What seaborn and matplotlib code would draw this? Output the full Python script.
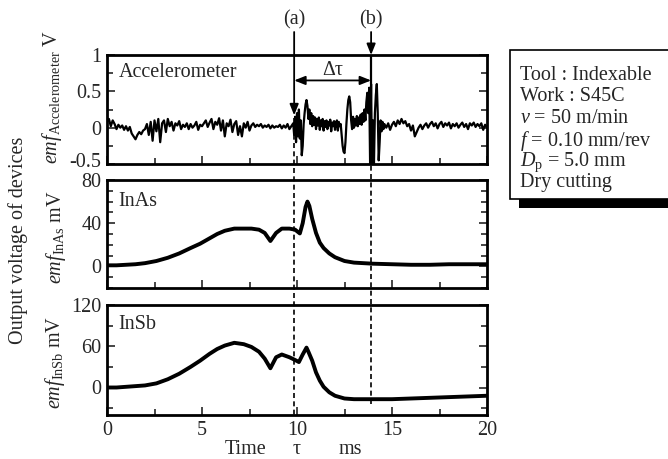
import numpy as np
import pandas as pd
import matplotlib
matplotlib.use("Agg")
import matplotlib.pyplot as plt
import matplotlib.transforms as mtransforms
from matplotlib.lines import Line2D
from matplotlib.patches import Rectangle
from matplotlib.ticker import MultipleLocator
import seaborn as sns

# ---------------- data ----------------
acc_t1 = np.round(np.arange(0.0, 9.8001, 0.1), 2)
acc_v1 = [0.08, 0.12, 0.02, 0.10, 0.05, -0.02, 0.04, 0.00, 0.03, -0.03,
          0.02, -0.04, 0.01, -0.08, -0.12, -0.16, -0.10, -0.06, -0.09, -0.04,
          -0.02, 0.05, -0.10, 0.08, -0.18, 0.10, -0.05, 0.12, -0.20, 0.06,
          0.10, -0.06, 0.12, 0.02, 0.08, -0.04, 0.06, 0.03, 0.09, -0.02,
          0.04, 0.01, 0.06, -0.02, 0.05, 0.00, 0.03, 0.08, -0.03, 0.04,
          0.02, 0.06, 0.10, 0.01, 0.07, 0.12, -0.02, 0.08, 0.04, 0.13,
          -0.04, 0.10, -0.12, 0.06, 0.02, 0.11, -0.06, 0.05, 0.09, -0.10,
          0.02, -0.12, 0.06, 0.00, 0.08, -0.04, 0.03, 0.06, 0.01, 0.04,
          0.02, 0.05, 0.00, 0.03, 0.01, 0.04, -0.01, 0.03, 0.00, 0.02,
          0.01, 0.04, -0.01, 0.03, 0.00, 0.05, -0.02, 0.02, 0.06]
acc_t2 = np.round(np.arange(9.85, 14.6001, 0.05), 2)
acc_v2 = [-0.10, 0.15, -0.20, 0.20, -0.12, 0.25, -0.15, 0.10, -0.38, -0.25,
          0.05, 0.20, 0.32, 0.38, 0.30, 0.12, 0.25, 0.05, 0.20, 0.02,
          0.16, 0.04, 0.14, -0.02, 0.12, 0.03, 0.14, -0.03, 0.10, 0.02,
          0.12, -0.04, 0.09, 0.01, 0.10, -0.02, 0.08, 0.03, 0.11, -0.05,
          0.07, 0.02, 0.09, -0.03, 0.06, 0.10, -0.04, 0.08, 0.02, 0.05,
          -0.10, -0.25, -0.33, -0.35, -0.20, 0.05, 0.25, 0.38, 0.43, 0.35,
          0.10, -0.02, 0.15, 0.00, 0.12, 0.03, 0.16, 0.02, 0.14, 0.05,
          0.18, 0.04, 0.20, 0.08, 0.25, 0.10, 0.35, 0.48, 0.20, 0.55,
          -0.55, 0.60, -0.55, 0.10, -0.50, 0.20, 0.45, 0.60, 0.20, -0.45,
          -0.20, 0.10, -0.05, 0.08, -0.02, 0.05]
acc_t3 = np.round(np.arange(14.7, 20.0001, 0.1), 2)
acc_v3 = [0.00, 0.06, -0.03, 0.04, 0.08, 0.02, 0.10, 0.05,
          0.12, 0.06, 0.09, 0.02, 0.05, -0.04, 0.03, -0.12, -0.06, 0.00,
          0.04, -0.02, 0.03, 0.06, 0.00, 0.05, 0.08, 0.02, 0.06, -0.01,
          0.05, 0.08, 0.01, 0.06, 0.03, 0.07, -0.01, 0.05, 0.02, 0.06,
          0.00, 0.04, 0.07, 0.01, 0.05, -0.02, 0.06, 0.03, 0.07, 0.01,
          0.05, 0.02, 0.06, -0.03, 0.04, 0.00]
acc_time = np.concatenate([acc_t1, acc_t2, acc_t3])
acc_emf = np.array(acc_v1 + acc_v2 + acc_v3)

inas_time = [0, 0.5, 1.0, 1.5, 2.0, 2.6, 3.2, 3.8, 4.4, 4.9, 5.4, 5.8, 6.2, 6.7,
             7.2, 7.6, 8.0, 8.3, 8.6, 8.9, 9.2, 9.6, 9.9, 10.15, 10.3, 10.45,
             10.55, 10.65, 10.8, 11.0, 11.2, 11.4, 11.7, 12.0, 12.5, 13.0,
             14.0, 15.0, 16.0, 17.0, 18.0, 19.0, 20.0]
inas_emf = [1, 1, 1.5, 2, 3, 5, 8, 12, 17, 21, 26, 30, 33, 35, 35, 35, 34, 31,
            23.5, 31, 35, 35, 34, 30.5, 40, 55, 60, 56, 44, 31, 22, 17, 12,
            8.5, 5, 3.5, 2.5, 2, 1.5, 1.5, 2, 2, 2]

insb_time = [0, 0.5, 1.0, 1.5, 2.0, 2.6, 3.2, 3.8, 4.4, 4.9, 5.4, 5.8, 6.2, 6.7,
             7.2, 7.6, 8.0, 8.3, 8.6, 8.9, 9.2, 9.6, 9.9, 10.1, 10.3, 10.5,
             10.6, 10.8, 11.0, 11.2, 11.4, 11.7, 12.0, 12.5, 13.0, 14.0, 15.0,
             16.0, 17.0, 18.0, 19.0, 20.0]
insb_emf = [0, 0, 1, 2, 3, 6, 12, 20, 30, 39, 49, 56, 61, 65, 63, 59, 52, 42,
            28, 44, 48, 44, 40, 37, 48, 58, 52, 39, 22, 10, 1, -7, -12, -16,
            -17, -17, -17, -16, -15, -14, -13, -12]

x_ticks = [0, 5, 10, 15, 20]
acc_yticks = [-0.5, 0, 0.5, 1]
inas_yticks = [0, 40, 80]
insb_yticks = [0, 60, 120]
t_a = 9.85
t_b = 13.9
info_lines = ["Tool : Indexable", "Work : S45C", r"$\mathit{v}$ = 50 m/min",
              r"$\mathit{f}$ = 0.10 mm/rev", r"$\mathit{D}_{\mathrm{p}}$ = 5.0 mm",
              "Dry cutting"]

# ---------------- style ----------------
sns.set_style("white")
plt.rcParams["font.family"] = ["Liberation Serif", "DejaVu Serif"]
plt.rcParams["mathtext.fontset"] = "custom"
plt.rcParams["mathtext.rm"] = "Liberation Serif"
plt.rcParams["mathtext.it"] = "Liberation Serif:italic"
plt.rcParams["mathtext.bf"] = "Liberation Serif:bold"
FS = 14.5

W, H = 668, 459
fig = plt.figure(figsize=(W / 100, H / 100), dpi=100)

def px_axes(top, bottom, left=107, right=487):
    return fig.add_axes([left / W, 1 - bottom / H, (right - left) / W, (bottom - top) / H])

ax1 = px_axes(55, 164)
ax2 = px_axes(180, 288)
ax3 = px_axes(305, 415)

sns.lineplot(x=acc_time, y=acc_emf, ax=ax1, color="black", lw=1.6, estimator=None, errorbar=None)
sns.lineplot(x=inas_time, y=inas_emf, ax=ax2, color="black", lw=2.8, estimator=None, errorbar=None)
sns.lineplot(x=insb_time, y=insb_emf, ax=ax3, color="black", lw=2.8, estimator=None, errorbar=None)

specs = [(ax1, (-0.5, 1), acc_yticks, 0.25, ["-0.5", "0", "0.5", "1"]),
         (ax2, (-20, 80), inas_yticks, 10, ["0", "40", "80"]),
         (ax3, (-40, 120), insb_yticks, 30, ["0", "60", "120"])]
for ax, ylim, yt, ymin, ylbl in specs:
    ax.set_xlim(0, 20)
    ax.set_ylim(*ylim)
    ax.set_xticks(x_ticks)
    ax.xaxis.set_minor_locator(MultipleLocator(2.5))
    ax.set_yticks(yt)
    ax.set_yticklabels(ylbl)
    ax.yaxis.set_minor_locator(MultipleLocator(ymin))
    ax.tick_params(which="both", direction="in", left=True, right=True,
                   bottom=True, top=False, labelsize=FS, pad=4, width=1.2)
    ax.tick_params(which="major", length=6)
    ax.tick_params(which="minor", length=4)
    for s in ax.spines.values():
        s.set_linewidth(2.0)
        s.set_color("black")
    ax.set_xlabel("")
    ax.set_ylabel("")
    ax.set_facecolor("white")
ax1.tick_params(axis="x", labelbottom=False)
ax2.tick_params(axis="x", labelbottom=False)
# lift the lowest accelerometer label slightly so it clears the "80" below
lbl = ax1.get_yticklabels()[0]
lbl.set_transform(lbl.get_transform() + mtransforms.ScaledTranslation(0, 3 / 72, fig.dpi_scale_trans))

ax1.text(0.032, 0.835, "Accelerometer", transform=ax1.transAxes, fontsize=FS, va="center", ha="left")
ax2.text(0.030, 0.80, "InAs", transform=ax2.transAxes, fontsize=FS, va="center", ha="left")
ax3.text(0.030, 0.82, "InSb", transform=ax3.transAxes, fontsize=FS, va="center", ha="left")

# y labels
fig.text(52 / W, 1 - 97 / H, r"$\mathit{emf}_{\mathrm{Accelerometer}}$ V", rotation=90,
         ha="center", va="center", fontsize=FS)
fig.text(56 / W, 1 - 237 / H, r"$\mathit{emf}_{\mathrm{InAs}}$ mV", rotation=90,
         ha="center", va="center", fontsize=FS)
fig.text(55 / W, 1 - 362 / H, r"$\mathit{emf}_{\mathrm{InSb}}$ mV", rotation=90,
         ha="center", va="center", fontsize=FS)
fig.text(18 / W, 1 - 240 / H, "Output voltage of devices", rotation=90,
         ha="center", va="center", fontsize=FS)

# x label
fig.text(246 / W, 1 - 449 / H, "Time", ha="center", va="center", fontsize=FS)
fig.text(297 / W, 1 - 450 / H, "τ", ha="center", va="center", fontsize=FS)
fig.text(350 / W, 1 - 449 / H, "ms", ha="center", va="center", fontsize=FS)

# markers (a), (b)
tr = mtransforms.blended_transform_factory(ax1.transData, fig.transFigure)
astyle = "-|>,head_length=0.55,head_width=0.22"
ax1.annotate("", xy=(t_a, 0.17), xycoords="data", xytext=(t_a, 1 - 32 / H), textcoords=tr,
             arrowprops=dict(arrowstyle=astyle, lw=1.3, color="black", mutation_scale=12,
                             shrinkA=0, shrinkB=0), annotation_clip=False)
ax1.annotate("", xy=(t_b, 1.0), xycoords="data", xytext=(t_b, 1 - 32 / H), textcoords=tr,
             arrowprops=dict(arrowstyle=astyle, lw=1.3, color="black", mutation_scale=12,
                             shrinkA=0, shrinkB=0), annotation_clip=False)
ax1.plot([t_b, t_b], [1.0, 0.6], color="black", lw=1.6)
ax1.annotate("", xy=(t_a, 0.65), xytext=(t_b, 0.65), xycoords="data",
             arrowprops=dict(arrowstyle="<|-|>,head_length=0.55,head_width=0.22", lw=1.3,
                             color="black", mutation_scale=12, shrinkA=0, shrinkB=0))
ax1.text((t_a + t_b) / 2, 0.79, "Δτ", ha="center", va="center", fontsize=FS)
fig.text(0, 1 - 20 / H, "(a)", transform=tr, ha="center", va="center", fontsize=FS)
fig.texts[-1].set_x(t_a)
fig.text(0, 1 - 20 / H, "(b)", transform=tr, ha="center", va="center", fontsize=FS)
fig.texts[-1].set_x(t_b)

# dashed guide lines across panels
fig.add_artist(Line2D([t_a, t_a], [1 - 118 / H, 1 - 415 / H], transform=tr, color="black",
                      lw=1.2, linestyle=(0, (3, 2))))
fig.add_artist(Line2D([t_b, t_b], [1 - 124 / H, 1 - 404 / H], transform=tr, color="black",
                      lw=1.2, linestyle=(0, (3, 2))))

# info box
fig.add_artist(Rectangle((510 / W, 1 - 199 / H), 200 / W, 149 / H, transform=fig.transFigure,
                         facecolor="white", edgecolor="black", lw=1.2))
fig.add_artist(Rectangle((519 / W, 1 - 208 / H), 200 / W, 9 / H, transform=fig.transFigure,
                         facecolor="black", edgecolor="none"))
for i, line in enumerate(info_lines):
    fig.text(520 / W, 1 - (73 + 21.4 * i) / H, line, ha="left", va="center_baseline", fontsize=FS)

fig.savefig("out.png", dpi=100, facecolor="white")
